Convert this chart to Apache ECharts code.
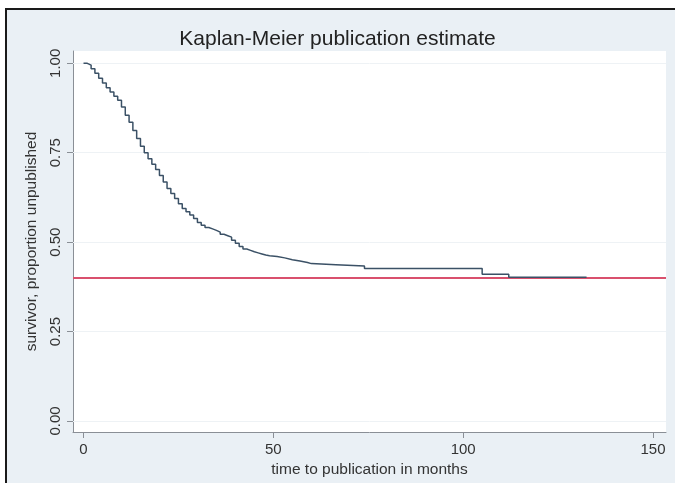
<!DOCTYPE html>
<html>
<head>
<meta charset="utf-8">
<script src="https://cdn.jsdelivr.net/npm/echarts@6/dist/echarts.min.js"></script>
<style>
  html, body { margin:0; padding:0; background:#ffffff; overflow:hidden; width:675px; height:483px; }
  #chart { position:absolute; left:0; top:0; width:675px; height:483px; }
</style>
</head>
<body>
<div id="chart"></div>
<script>
// Kaplan-Meier step estimate
const months = [0,1,2,3,4,5,6,7,8,9,10,11,12,13,14,15,16,17,18,19,20,21,22,23,24,25,26,27,28,29,30,31,32,33,34,35,36,37,38,39,40,41,42,43,44,45,46,47,48,49,51,53,55,57,59,60,66.5,74,105,112,132.5];
const survival = [1.000,0.995,0.985,0.972,0.958,0.945,0.932,0.920,0.908,0.897,0.878,0.855,0.835,0.812,0.790,0.768,0.750,0.733,0.718,0.703,0.686,0.668,0.650,0.636,0.622,0.607,0.594,0.585,0.576,0.566,0.555,0.547,0.541,0.537,0.533,0.528,0.522,0.518,0.514,0.505,0.497,0.488,0.481,0.477,0.473,0.470,0.467,0.464,0.462,0.460,0.456,0.451,0.447,0.443,0.440,0.437,0.433,0.426,0.410,0.402,0.402];
const referenceLevel = 0.40;
const yTicks = [0, 0.25, 0.5, 0.75, 1];
const xTicks = [0, 50, 100, 150];
const titleText = 'Kaplan-Meier publication estimate';
const yTitle = 'survivor, proportion unpublished';
const xTitle = 'time to publication in months';

const chart = echarts.init(document.getElementById('chart'), null, {renderer:'canvas'});
const font = 'Liberation Sans, Arial, Helvetica, sans-serif';
const kmData = months.map((m, i) => [m, survival[i]]);

chart.setOption({
  backgroundColor: '#ffffff',
  animation: false,
  graphic: [
    { type: 'rect', z: -10, silent: true, shape: { x: 5, y: 8, width: 680, height: 490 },
      style: { fill: '#eaf0f5', stroke: null } },
    { type: 'line', z: -9, silent: true, shape: { x1: 5, y1: 9, x2: 680, y2: 9 },
      style: { stroke: '#1a1a1a', lineWidth: 2 } },
    { type: 'line', z: -9, silent: true, shape: { x1: 6, y1: 8, x2: 6, y2: 490 },
      style: { stroke: '#1a1a1a', lineWidth: 2 } }
  ],
  title: {
    text: titleText, left: 'center', top: 24,
    textStyle: { fontFamily: font, fontSize: 21, fontWeight: 'normal', color: '#222' }
  },
  grid: { left: 73, right: 9, top: 51, bottom: 51, show: true, backgroundColor: '#ffffff', borderWidth: 0 },
  xAxis: {
    type: 'value', min: -2.77, max: 153.42,
    name: xTitle, nameLocation: 'middle', nameGap: 26,
    nameTextStyle: { fontFamily: font, fontSize: 15.5, color: '#333' },
    axisLine: { show: true, onZero: false, lineStyle: { color: '#8a8f96', width: 1 } },
    axisTick: { show: true, length: 6, customValues: xTicks, lineStyle: { color: '#8a8f96' } },
    axisLabel: { customValues: xTicks, fontFamily: font, fontSize: 15, color: '#333', margin: 10 },
    splitLine: { show: false }
  },
  yAxis: {
    type: 'value', min: -0.0308, max: 1.0344,
    name: yTitle, nameLocation: 'middle', nameGap: 32, nameRotate: 90,
    nameTextStyle: { fontFamily: font, fontSize: 15.5, color: '#333' },
    axisLine: { show: true, onZero: false, lineStyle: { color: '#8a8f96', width: 1 } },
    axisTick: { show: true, length: 6, customValues: yTicks, lineStyle: { color: '#8a8f96' } },
    axisLabel: { customValues: yTicks, rotate: 90, fontFamily: font, fontSize: 15, color: '#333', margin: 10,
      formatter: v => v.toFixed(2) },
    splitLine: { show: false }
  },
  series: [
    {
      name: 'grid', type: 'line', data: [], silent: true, z: 1,
      markLine: {
        silent: true, symbol: 'none', label: { show: false }, z: 1,
        lineStyle: { color: '#eef2f5', width: 1, type: 'solid' },
        data: yTicks.map(v => ({ yAxis: v }))
      }
    },
    {
      name: 'reference', type: 'line', data: [], silent: true, z: 2,
      markLine: {
        silent: true, symbol: 'none', label: { show: false }, z: 2,
        lineStyle: { color: '#d9506d', width: 2, type: 'solid' },
        data: [{ yAxis: referenceLevel }]
      }
    },
    {
      name: 'km', type: 'line', step: 'end', data: kmData, showSymbol: false, z: 10,
      lineStyle: { color: '#3b5166', width: 1.5 }
    }
  ]
});
</script>
</body>
</html>
